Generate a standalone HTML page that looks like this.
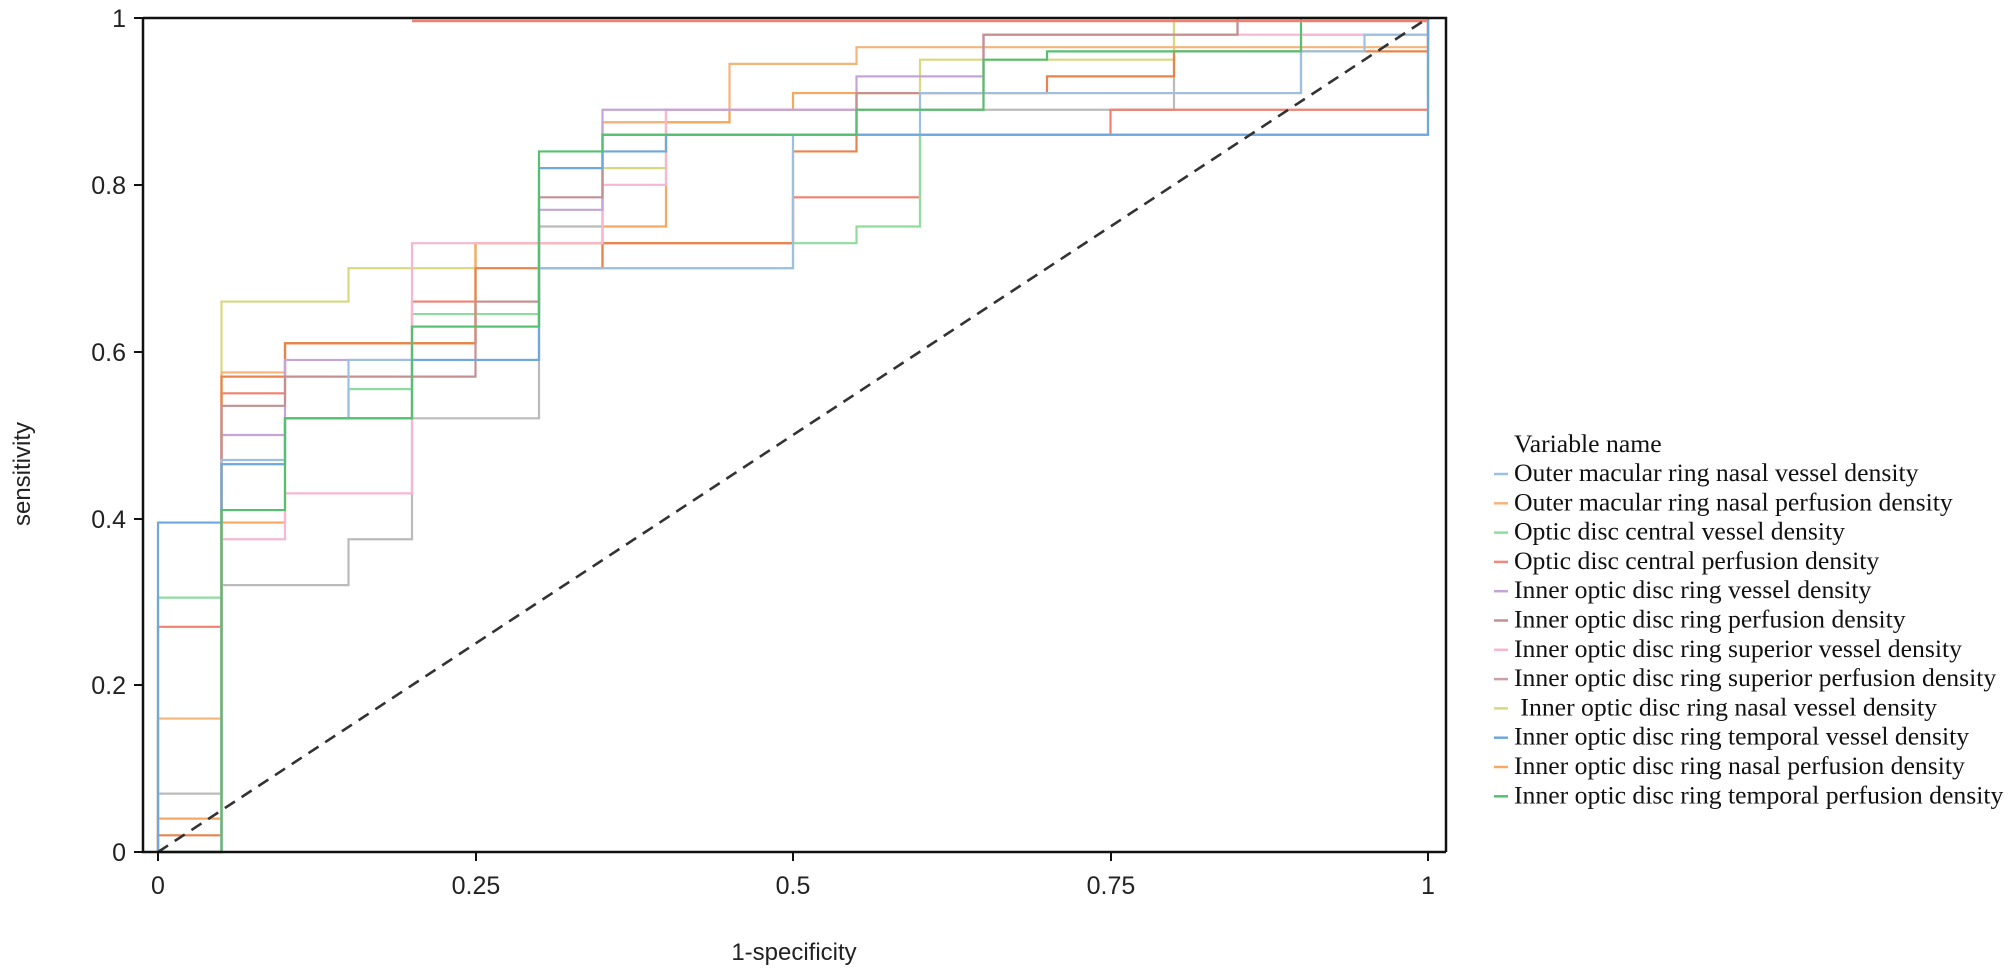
<!DOCTYPE html>
<html><head><meta charset="utf-8"><style>
html,body{margin:0;padding:0;background:#fff;}
svg{display:block;}
.t{font-family:"Liberation Sans",sans-serif;font-size:25px;fill:#222;}
.a{font-family:"Liberation Sans",sans-serif;font-size:24px;fill:#222;}
.l{font-family:"Liberation Serif",serif;font-size:25.7px;fill:#111;}
</style></head><body>
<svg id="s" width="2008" height="970" viewBox="0 0 2008 970" xmlns="http://www.w3.org/2000/svg">
<rect width="2008" height="970" fill="#fff"/>
<g id="curves" fill="none" stroke-width="2.2"></g>
<line x1="412" y1="21" x2="1428" y2="21" stroke="#f08070" stroke-width="2.5"/>
<line x1="158" y1="852" x2="1428" y2="18" stroke="#333" stroke-width="2.6" stroke-dasharray="12,8"/>
<path d="M143 18 H1446 V852 M143 18 V852 H1446" fill="none" stroke="#111" stroke-width="2.5"/>
<g stroke="#111" stroke-width="2">
<line x1="134" y1="852" x2="143" y2="852"/><line x1="134" y1="685" x2="143" y2="685"/><line x1="134" y1="519" x2="143" y2="519"/><line x1="134" y1="352" x2="143" y2="352"/><line x1="134" y1="185" x2="143" y2="185"/><line x1="134" y1="18" x2="143" y2="18"/>
<line x1="158" y1="852" x2="158" y2="861"/><line x1="476" y1="852" x2="476" y2="861"/><line x1="793" y1="852" x2="793" y2="861"/><line x1="1111" y1="852" x2="1111" y2="861"/><line x1="1428" y1="852" x2="1428" y2="861"/>
</g>
<g class="t" text-anchor="end">
<text x="126" y="861">0</text><text x="126" y="694">0.2</text><text x="126" y="528">0.4</text><text x="126" y="361">0.6</text><text x="126" y="194">0.8</text><text x="126" y="27">1</text>
</g>
<g class="t" text-anchor="middle">
<text x="158" y="894">0</text><text x="476" y="894">0.25</text><text x="793" y="894">0.5</text><text x="1111" y="894">0.75</text><text x="1428" y="894">1</text>
</g>
<g class="a" text-anchor="middle">
<text x="794" y="960">1-specificity</text>
<text transform="translate(30,474) rotate(-90)">sensitivity</text>
</g>
<g class="l" id="leg">
<text x="1514" y="452">Variable name</text>
</g>
</svg>
<script>
var X=function(x){return 158+1270*x},Y=function(y){return 852-834*y};
var S=[
["#bbbbbb",[[0,0.07],[0.05,0.32],[0.15,0.375],[0.2,0.52],[0.3,0.75],[0.35,0.875],[0.4,0.89],[0.8,1],[1,1]]],
["#d8d880",[[0.05,0.66],[0.15,0.70],[0.25,0.73],[0.35,0.82],[0.4,0.89],[0.6,0.95],[0.8,1],[1,1]]],
["#f08070",[[0,0.27],[0.05,0.55],[0.1,0.61],[0.2,0.66],[0.3,0.70],[0.35,0.73],[0.5,0.785],[0.6,0.86],[0.75,0.89],[1,0.89],[1,1]]],
["#8fdc9f",[[0,0.305],[0.05,0.465],[0.1,0.52],[0.15,0.555],[0.2,0.645],[0.3,0.70],[0.5,0.73],[0.55,0.75],[0.6,0.86],[1,0.86],[1,1]]],
["#f5b57a",[[0,0.16],[0.05,0.575],[0.1,0.61],[0.25,0.73],[0.35,0.875],[0.45,0.945],[0.55,0.965],[1,0.965],[1,1]]],
["#f7a860",[[0,0.04],[0.05,0.395],[0.1,0.52],[0.2,0.61],[0.25,0.73],[0.35,0.75],[0.4,0.875],[0.45,0.89],[0.5,0.91],[0.9,0.98],[1,1]]],
["#e8844a",[[0,0.02],[0.05,0.57],[0.1,0.61],[0.25,0.70],[0.35,0.73],[0.5,0.84],[0.55,0.91],[0.7,0.93],[0.8,0.96],[1,0.96],[1,1]]],
["#f7b6d2",[[0.05,0.375],[0.1,0.43],[0.2,0.73],[0.35,0.80],[0.4,0.89],[0.65,0.98],[1,1]]],
["#c5a5d8",[[0.05,0.50],[0.1,0.59],[0.2,0.63],[0.3,0.77],[0.35,0.89],[0.55,0.93],[0.65,0.98],[0.85,1],[1,1]]],
["#c49090",[[0.05,0.535],[0.1,0.57],[0.25,0.66],[0.3,0.785],[0.35,0.86],[0.55,0.91],[0.65,0.98],[0.85,1],[1,1]]],
["#9cc0e2",[[0.05,0.47],[0.1,0.52],[0.15,0.59],[0.3,0.59],[0.3,0.70],[0.5,0.86],[0.6,0.91],[0.9,0.96],[0.95,0.98],[1,1]]],
["#6fa8dc",[[0,0.395],[0.05,0.465],[0.1,0.52],[0.2,0.59],[0.3,0.82],[0.35,0.84],[0.4,0.86],[1,0.86],[1,1]]],
["#55c070",[[0.05,0.41],[0.1,0.52],[0.2,0.63],[0.3,0.84],[0.35,0.86],[0.55,0.89],[0.65,0.95],[0.7,0.96],[0.9,1],[1,1]]]
];
var g=document.getElementById("curves"),h="";
S.forEach(function(s){var d="M"+X(0)+" "+Y(0);s[1].forEach(function(p){d+=" H"+X(p[0])+" V"+Y(p[1]);});h+='<path d="'+d+'" stroke="'+s[0]+'"/>';});
g.innerHTML=h;
var names=["Outer macular ring nasal vessel density","Outer macular ring nasal perfusion density","Optic disc central vessel density","Optic disc central perfusion density","Inner optic disc ring vessel density","Inner optic disc ring perfusion density","Inner optic disc ring superior vessel density","Inner optic disc ring superior perfusion density"," Inner optic disc ring nasal vessel density","Inner optic disc ring temporal vessel density","Inner optic disc ring nasal perfusion density","Inner optic disc ring temporal perfusion density"];
var cols=["#9cc0e2","#f5b57a","#8fdc9f","#f08a80","#c5a5d8","#c49090","#f7b6d2","#c9a0a8","#d8d880","#6fa8dc","#f7a860","#55c070"];
var L=document.getElementById("leg"),lh="";
names.forEach(function(n,i){var y=481+29.3*i;lh+='<line x1="1494" x2="1508" y1="'+(y-7)+'" y2="'+(y-7)+'" stroke="'+cols[i]+'" stroke-width="2.5"/><text x="1514" y="'+y+'" xml:space="preserve">'+n+'</text>';});
L.innerHTML+=lh;
</script>
</body></html>
